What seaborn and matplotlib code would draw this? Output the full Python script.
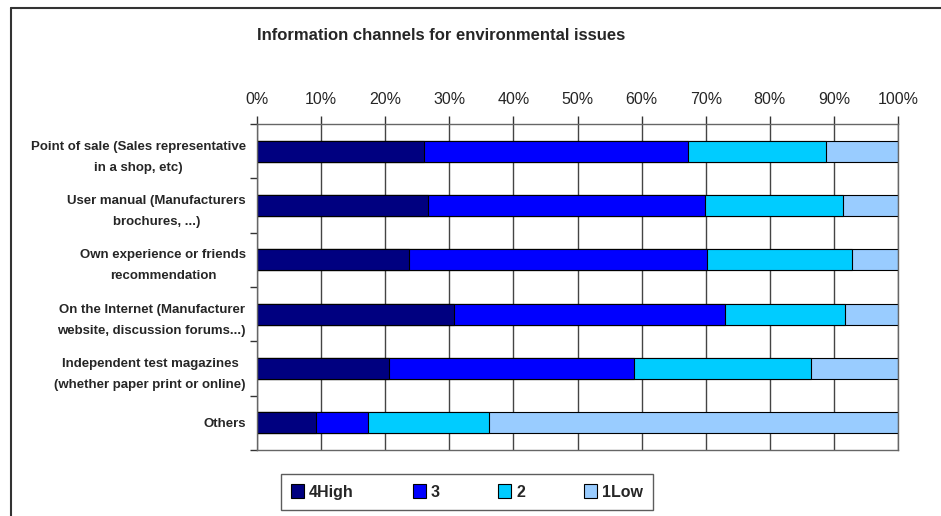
import numpy as np
import matplotlib
matplotlib.use('Agg')
import matplotlib.pyplot as plt
from matplotlib.lines import Line2D
from matplotlib.patches import Patch
import seaborn as sns

# Data (percent of answers per channel)
channels = [
    'Point of sale (Sales representative\nin a shop, etc)',
    'User manual (Manufacturers\nbrochures, ...)',
    'Own experience or friends\nrecommendation',
    'On the Internet (Manufacturer\nwebsite, discussion forums...)',
    'Independent test magazines\n(whether paper print or online)',
    'Others',
]
high4 = [26.1, 26.6, 23.7, 30.7, 20.6, 9.2]
lvl3 = [41.2, 43.3, 46.5, 42.3, 38.2, 8.1]
lvl2 = [21.4, 21.5, 22.6, 18.8, 27.6, 18.9]
low1 = [11.3, 8.6, 7.2, 8.2, 13.6, 63.8]
series_names = ['4High', '3', '2', '1Low']
series_colors = ['#000080', '#0000FF', '#00CCFF', '#99CCFF']
pct_ticks = list(range(0, 101, 10))

sns.set_style('white')
plt.rcParams['font.family'] = ['Liberation Sans', 'DejaVu Sans']

fig = plt.figure(figsize=(9.41, 5.16), dpi=100)
ax = fig.add_axes([257 / 941, 1 - 450 / 516, (898 - 257) / 941, (450 - 124) / 516])

# stacked bars: draw cumulative totals, widest first
series = [high4, lvl3, lvl2, low1]
cum = np.cumsum(np.array(series), axis=0)
# rescale so every row closes at exactly 100%
cum = cum / cum[-1] * 100
for i in range(len(series) - 1, -1, -1):
    sns.barplot(x=cum[i], y=channels, orient='h', color=series_colors[i],
                saturation=1, width=0.39, edgecolor='black', linewidth=0.8, ax=ax)

ax.set_xlim(0, 100)
ax.set_ylim(5.5, -0.5)
ax.set_xlabel('')
ax.set_ylabel('')

# grid & spines
ax.set_axisbelow(True)
ax.xaxis.grid(True, color='#444444', linewidth=1)
for side in ['top', 'left', 'bottom', 'right']:
    ax.spines[side].set_visible(True)
    ax.spines[side].set_color('#666666')
    ax.spines[side].set_linewidth(1)

# x axis on top
ax.xaxis.tick_top()
ax.set_xticks(pct_ticks)
ax.set_xticklabels([f'{v}%' for v in pct_ticks], fontsize=11.5)
ax.tick_params(axis='x', which='major', top=True, bottom=False, length=6,
               width=1, color='#333333', pad=6, direction='out')

# y axis labels with boundary ticks
ax.set_yticks(range(len(channels)))
ax.set_yticklabels(channels, fontsize=9.5, fontweight='bold', multialignment='center')
for lbl in ax.get_yticklabels():
    lbl.set_linespacing(2.0)
ax.tick_params(axis='y', which='major', length=0, pad=8, left=True)
ax.set_yticks(np.arange(-0.5, len(channels), 1), minor=True)
ax.tick_params(axis='y', which='minor', left=True, length=5, width=1,
               color='#333333', direction='out')

fig.text(441 / 941, 1 - 36 / 516, 'Information channels for environmental issues',
         ha='center', va='center', fontsize=12, fontweight='bold')

handles = [Patch(facecolor=c, edgecolor='black', linewidth=0.8) for c in series_colors]
leg = fig.legend(handles, series_names, loc='center', ncol=4,
                 bbox_to_anchor=(467 / 941, 1 - 492 / 516),
                 frameon=True, fancybox=False, handlelength=0.8, handleheight=0.9,
                 handletextpad=0.3, columnspacing=3.7, borderpad=0.65, borderaxespad=0,
                 prop={'size': 11.5, 'weight': 'bold'})
leg.get_frame().set_edgecolor('#333333')
leg.get_frame().set_linewidth(1)

# outer chart frame (top and left edges visible in the reference)
fig.add_artist(Line2D([11 / 941, 1], [1 - 8 / 516, 1 - 8 / 516], color='#333333', linewidth=1.5))
fig.add_artist(Line2D([11 / 941, 11 / 941], [0, 1 - 8 / 516], color='#333333', linewidth=1.5))

fig.savefig('out.png', dpi=100)
